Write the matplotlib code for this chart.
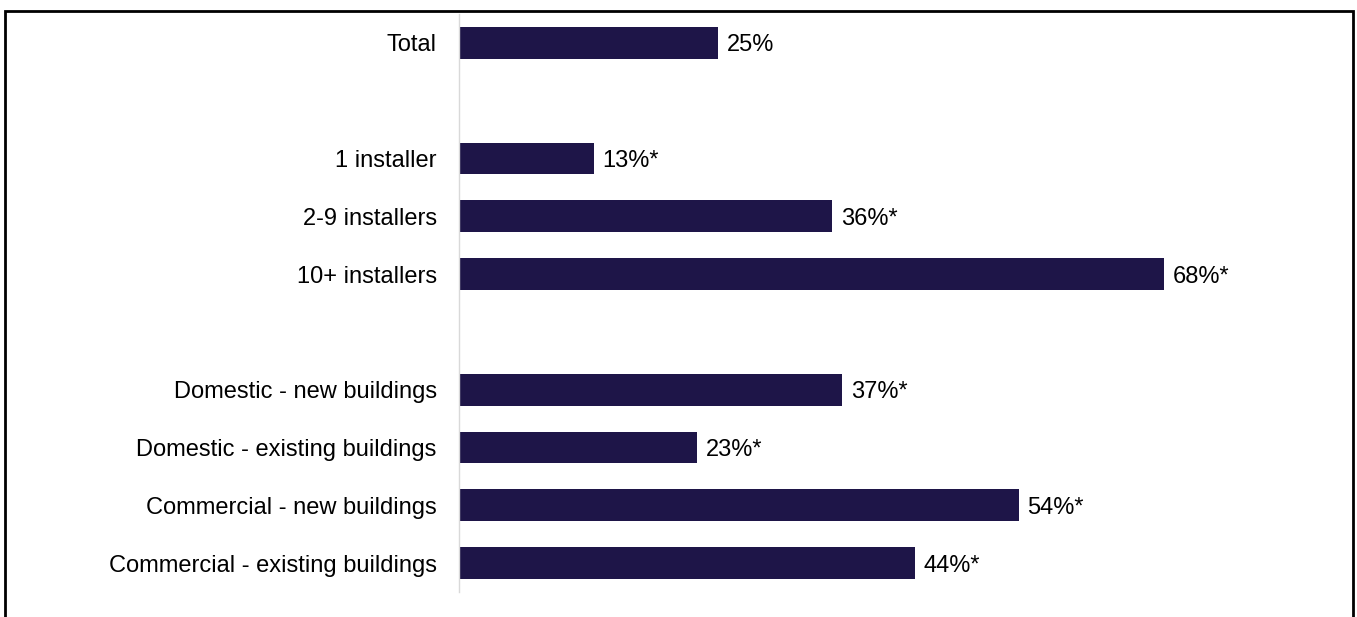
import numpy as np
import matplotlib.pyplot as plt
from matplotlib.patches import Rectangle

plt.rcParams['font.family'] = ['Liberation Sans', 'DejaVu Sans']
plt.rcParams['font.size'] = 17

categories = ['Total',
              '1 installer', '2-9 installers', '10+ installers',
              'Domestic - new buildings', 'Domestic - existing buildings',
              'Commercial - new buildings', 'Commercial - existing buildings']
values = [25, 13, 36, 68, 37, 23, 54, 44]
value_labels = ['25%', '13%*', '36%*', '68%*', '37%*', '23%*', '54%*', '44%*']
# slot of each bar, blank slots split the groups
slots = [0, 2, 3, 4, 6, 7, 8, 9]

bar_color = '#1e1548'

fig = plt.figure(figsize=(13.57, 6.17), dpi=100)
ax = fig.add_axes([459 / 1357, 1 - 592 / 617, (1345 - 459) / 1357, (592 - 14) / 617])

ax.barh(slots, values, height=0.55, color=bar_color)
for s, v, lab in zip(slots, values, value_labels):
    ax.text(v + 0.85, s, lab, va='center_baseline', ha='left', fontsize=17, color='black')

ax.set_ylim(9.5, -0.5)
ax.set_xlim(0, 85.5)
ax.set_yticks(slots)
ax.set_yticklabels(categories, fontsize=17)
ax.tick_params(axis='y', length=0, pad=16)
ax.set_xticks([])
for side in ['top', 'right', 'bottom']:
    ax.spines[side].set_visible(False)
ax.spines['left'].set_color('#d9d9d9')
ax.spines['left'].set_linewidth(1.0)

# outer frame, its lower edge runs past the bottom of the figure
frame = Rectangle((5 / 1357, -0.05), (1353 - 5) / 1357, 1.05 - 11 / 617,
                  transform=fig.transFigure, fill=False, edgecolor='black',
                  linewidth=2, clip_on=False)
fig.patches.append(frame)

fig.savefig('out.png', dpi=100)
